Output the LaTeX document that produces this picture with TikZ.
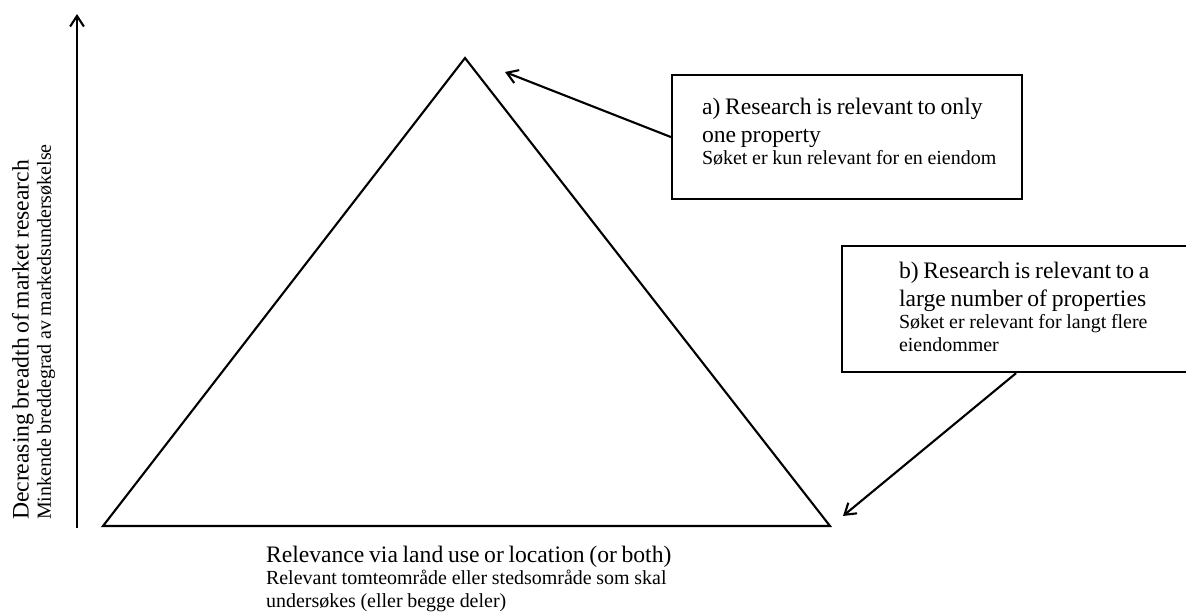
\documentclass[tikz,border=0pt]{standalone}
\usepackage{fontspec}
\setmainfont{Liberation Serif}
\usetikzlibrary{arrows.meta}

\newcommand{\bigtext}{\fontsize{16.8}{20.2}\selectfont}
\newcommand{\smalltext}{\fontsize{14.2}{16}\selectfont}

\begin{document}
\begin{tikzpicture}[
            x = 0.025cm, y = -0.025cm, % one unit per pixel, y downwards
            > = {Straight Barb[angle = 66:9pt]}, % arrow head style
            line width = 1.5pt % line style
        ]

        \tikzstyle{box}=[
            draw = black,
            inner sep = 0pt,
            anchor = north west
        ]
        \tikzstyle{note}=[
            inner sep = 0pt,
            text width = 9cm,
            align = left,
            anchor = base west % first baseline
        ]

	\useasboundingbox (0,0) rectangle (1186,612);

	% triangle
	\coordinate (apex) at (465,58);
	\coordinate (baseL) at (103,526);
	\coordinate (baseR) at (830,526);
	\draw (baseL) -- (apex) -- (baseR) -- cycle;

	% axis
	\coordinate (origin) at (77,528);
	\coordinate (ytip) at (77,14);
	\draw[->] (origin) -- (ytip);

	\node[box, minimum width = 8.75cm, minimum height = 3.1cm] (boxa) at (671,74) {};
	\node[box, minimum width = 8.7cm, minimum height = 3.15cm] (boxb) at (841,245) {};

	\node[note] (texta) at (701,114) {\bigtext a) Research is relevant to only\\ one property\par
		\smalltext Søket er kun relevant for en eiendom\par};
	\node[note] (textb) at (898,278) {\bigtext b) Research is relevant to a\\ large number of properties\par
		\smalltext Søket er relevant for langt flere\\ eiendommer\par};
	\node[note, text width = 12cm] (xlabel) at (265,562) {\bigtext Relevance via land use or location (or both)\par
		\smalltext Relevant tomteområde eller stedsområde som skal\\ undersøkes (eller begge deler)\par};
	\node[note, text width = 10cm, rotate = 90] (ylabel) at (28.5,521) {\bigtext Decreasing breadth of market research\par
		\smalltext Minkende breddegrad av markedsundersøkelse\par};

	\coordinate (tipa) at (505,72);
	\coordinate (tipb) at (843,516);
        \path[->] (boxa.west) edge (tipa);
        \path[->] (boxb.south) edge (tipb);

\end{tikzpicture}
\end{document}
